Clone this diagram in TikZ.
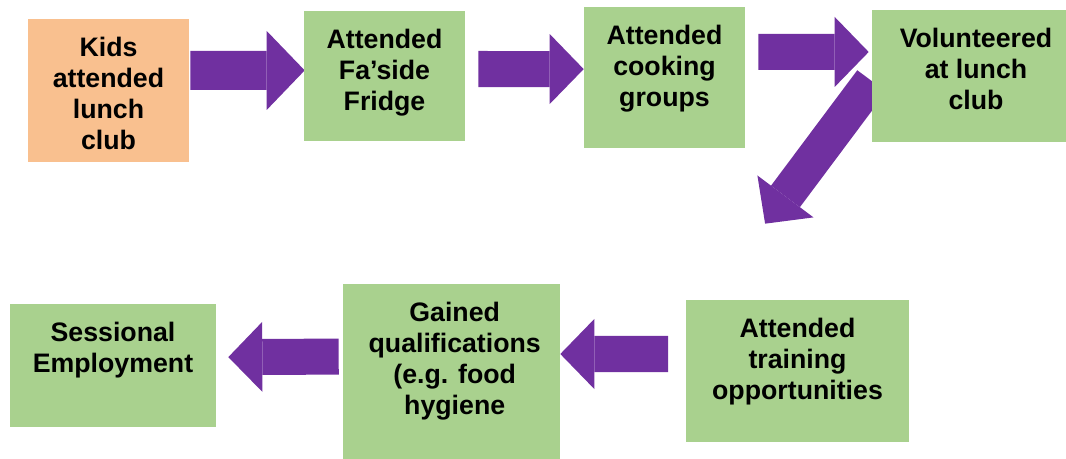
\documentclass[tikz,border=0pt]{standalone}
\usepackage{fontspec}
\setmainfont{Liberation Sans}
\usetikzlibrary{arrows.meta,backgrounds}
\definecolor{boxgreen}{HTML}{A9D18E}
\definecolor{boxorange}{HTML}{F9C08F}
\definecolor{flowpurple}{HTML}{7030A0}

\begin{document}
\begin{tikzpicture}[
    x=0.025cm, y=-0.025cm,
    box/.style={rectangle, fill=boxgreen, inner sep=0pt},
    lbl/.style={anchor=north, inner sep=0pt, align=center, font=\fontsize{19}{22}\selectfont\bfseries},
    flow/.style={flowpurple, line width=0.9cm, -{Triangle[width=1.75cm, length=0.85cm, line width=0pt]}},
    bigflow/.style={flowpurple, line width=0.975cm, -{Triangle[width=1.975cm, length=0.95cm, line width=0pt]}}
]
\useasboundingbox (0,0) rectangle (1066,459);

% Top row
\node[box, fill=boxorange, minimum width=4.025cm, minimum height=3.575cm] (kids) at (108.5,90.5) {};
\node[box, minimum width=4.025cm, minimum height=3.25cm] (fridge) at (384.5,76) {};
\node[box, minimum width=4.025cm, minimum height=3.525cm] (cooking) at (664.5,77.5) {};
\node[box, minimum width=5.2cm, minimum height=3.3cm] (volunteer) at (976,76) {};

% Bottom row
\node[box, minimum width=5.575cm, minimum height=3.55cm] (training) at (797.5,371) {};
\node[box, minimum width=5.425cm, minimum height=4.65cm] (gained) at (451.5,377) {};
\node[box, minimum width=5.15cm, minimum height=3.075cm] (sessional) at (113,365.5) {};

% Texts
\node[lbl] (kidstext) at ([yshift=-0.45cm]kids.north) {Kids\\attended\\lunch\\club};
\node[lbl] (fridgetext) at ([yshift=-0.45cm]fridge.north) {Attended\\Fa’side\\Fridge};
\node[lbl] (cookingtext) at ([yshift=-0.45cm]cooking.north) {Attended\\cooking\\groups};
\node[lbl] (volunteertext) at ([yshift=-0.45cm]volunteer.north) {Volunteered\\at lunch\\club};
\node[lbl] (trainingtext) at ([yshift=-0.45cm]training.north) {Attended\\training\\opportunities};
\node[lbl] (gainedtext) at ([xshift=0.08cm,yshift=-0.45cm]gained.north) {Gained\\qualifications\\(e.g. food\\hygiene};
\node[lbl] (sessionaltext) at ([yshift=-0.45cm]sessional.north) {Sessional\\Employment};

% Arrows
\begin{scope}[on background layer]
\draw[bigflow] ([xshift=0.025cm,yshift=0.5cm]kids.east) -- ([xshift=0.025cm,yshift=0.14cm]fridge.west);
\draw[flow] ([xshift=0.325cm,yshift=0.175cm]fridge.east) -- ([yshift=0.21cm]cooking.west);
\draw[flow] ([xshift=0.325cm,yshift=0.64cm]cooking.east) -- ([xshift=-0.075cm,yshift=0.6cm]volunteer.west);
\draw[flow] ([yshift=-0.125cm]volunteer.west) -- ([xshift=-0.81cm,yshift=1.9cm]training.north);
\draw[flow] ([xshift=-0.44cm,yshift=0.425cm]training.west) -- ([yshift=0.575cm]gained.east);
\draw[flow] ([xshift=-0.1cm,yshift=0.51cm]gained.west) -- ([xshift=0.3cm,yshift=0.21cm]sessional.east);
\end{scope}

\end{tikzpicture}
\end{document}
